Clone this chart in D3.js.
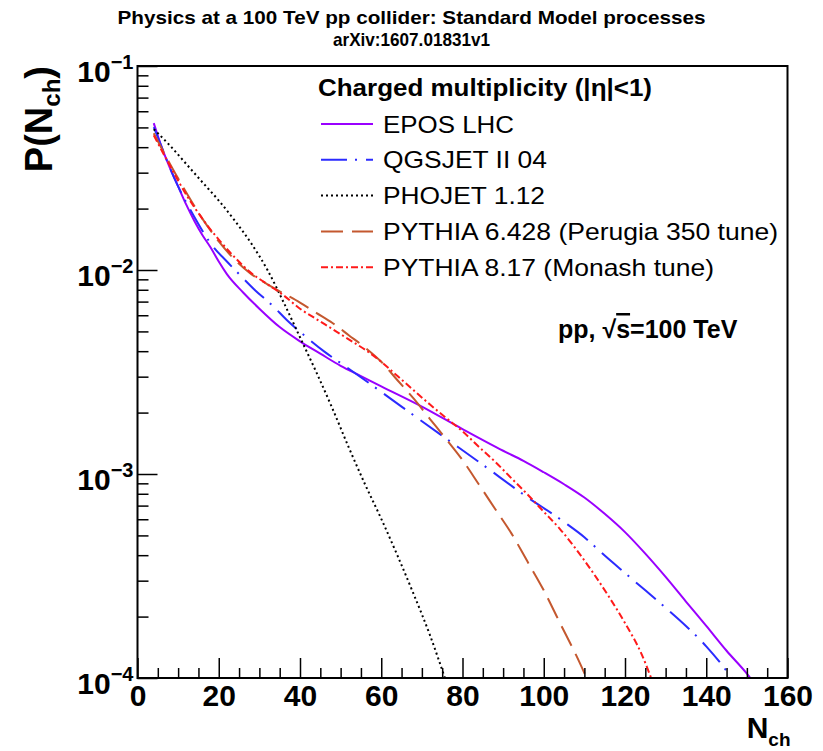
<!DOCTYPE html>
<html>
<head>
<meta charset="utf-8">
<script src="https://cdn.jsdelivr.net/npm/d3@7"></script>
<style>
  body { margin: 0; background: #fff; }
  text { font-family: "Liberation Sans", Arial, Helvetica, sans-serif; fill: #000; }
</style>
</head>
<body>
<svg id="chart"></svg>
<script>
// ---- data ----
const titleLines = [
  "Physics at a 100 TeV pp collider: Standard Model processes",
  "arXiv:1607.01831v1"
];
const xTicks = [0, 20, 40, 60, 80, 100, 120, 140, 160];
const yTicks = [1e-1, 1e-2, 1e-3, 1e-4];
const legendTitle = "Charged multiplicity (|η|<1)";
const seriesNames = [
  "EPOS LHC",
  "QGSJET II 04",
  "PHOJET 1.12",
  "PYTHIA 6.428 (Perugia 350 tune)",
  "PYTHIA 8.17 (Monash tune)"
];

// [N_ch, P(N_ch)]
const epos = [
  [4, 5.25e-2], [6, 3.98e-2], [8, 3.16e-2], [10, 2.57e-2], [12, 2.09e-2],
  [14, 1.74e-2], [16, 1.48e-2], [18, 1.29e-2], [20, 1.10e-2], [22, 9.55e-3],
  [26, 7.76e-3], [30, 6.46e-3], [35, 5.25e-3], [40, 4.47e-3], [45, 3.89e-3],
  [50, 3.39e-3], [55, 3.02e-3], [60, 2.69e-3], [70, 2.14e-3], [80, 1.66e-3],
  [90, 1.30e-3], [95, 1.16e-3], [100, 1.02e-3], [105, 8.91e-4], [110, 7.67e-4],
  [115, 6.38e-4], [120, 5.19e-4], [125, 4.07e-4], [130, 3.13e-4], [135, 2.37e-4],
  [140, 1.80e-4], [145, 1.36e-4], [150, 1.05e-4], [152, 9.33e-5]
];
const qgsjet = [
  [4, 5.01e-2], [6, 3.98e-2], [8, 3.16e-2], [10, 2.57e-2], [14, 1.82e-2],
  [18, 1.35e-2], [22, 1.10e-2], [25, 9.55e-3], [29, 7.94e-3], [33, 6.76e-3],
  [37, 5.62e-3], [41, 4.79e-3], [46, 3.98e-3], [51, 3.39e-3], [57, 2.79e-3],
  [65, 2.14e-3], [75, 1.54e-3], [85, 1.11e-3], [95, 7.94e-4], [105, 5.82e-4],
  [110, 4.90e-4], [115, 3.98e-4], [120, 3.27e-4], [125, 2.69e-4], [130, 2.21e-4],
  [135, 1.80e-4], [140, 1.43e-4], [144, 1.15e-4], [147, 9.55e-5]
];
const phojet = [
  [4, 4.90e-2], [8, 4.07e-2], [12, 3.31e-2], [16, 2.69e-2], [20, 2.19e-2],
  [24, 1.74e-2], [28, 1.35e-2], [32, 1.00e-2], [36, 6.92e-3], [40, 4.68e-3],
  [44, 3.16e-3], [48, 2.09e-3], [52, 1.35e-3], [56, 8.91e-4], [60, 6.03e-4],
  [64, 3.98e-4], [68, 2.57e-4], [72, 1.62e-4], [76, 9.55e-5]
];
const pythia6 = [
  [4, 4.68e-2], [8, 3.31e-2], [12, 2.40e-2], [16, 1.78e-2], [20, 1.38e-2],
  [24, 1.12e-2], [28, 9.55e-3], [32, 8.51e-3], [36, 7.67e-3], [40, 6.92e-3],
  [44, 6.17e-3], [48, 5.50e-3], [52, 4.79e-3], [56, 4.17e-3], [60, 3.55e-3],
  [64, 2.88e-3], [68, 2.34e-3], [72, 1.86e-3], [76, 1.48e-3], [80, 1.17e-3],
  [84, 8.91e-4], [88, 6.76e-4], [92, 5.13e-4], [96, 3.72e-4], [100, 2.69e-4],
  [104, 1.86e-4], [108, 1.29e-4], [111, 9.55e-5]
];
const pythia8 = [
  [4, 4.57e-2], [8, 3.24e-2], [12, 2.34e-2], [16, 1.78e-2], [20, 1.41e-2],
  [24, 1.15e-2], [28, 9.66e-3], [32, 8.51e-3], [36, 7.50e-3], [40, 6.46e-3],
  [44, 5.75e-3], [48, 5.13e-3], [52, 4.57e-3], [56, 4.07e-3], [60, 3.55e-3],
  [64, 3.02e-3], [68, 2.57e-3], [72, 2.19e-3], [76, 1.88e-3], [80, 1.62e-3],
  [84, 1.36e-3], [88, 1.15e-3], [92, 9.55e-4], [96, 7.94e-4], [100, 6.53e-4],
  [104, 5.37e-4], [108, 4.27e-4], [112, 3.31e-4], [116, 2.51e-4], [120, 1.86e-4],
  [124, 1.32e-4], [127, 9.33e-5]
];

// ---- layout ----
const width = 823, height = 751;
const margin = { top: 66, right: 35.5, bottom: 73, left: 137.5 };
const plotW = width - margin.left - margin.right;
const plotH = height - margin.top - margin.bottom;

const series = [
  { name: seriesNames[0], data: epos,    color: "#9a00ff", dash: null },
  { name: seriesNames[1], data: qgsjet,  color: "#2b2bff", dash: "26,8,2,9" },
  { name: seriesNames[2], data: phojet,  color: "#000000", dash: "2,3" },
  { name: seriesNames[3], data: pythia6, color: "#c4582f", dash: "22,9" },
  { name: seriesNames[4], data: pythia8, color: "#ff1a1a", dash: "7,3,2,3" }
];

const svg = d3.select("#chart").attr("width", width).attr("height", height);

// title
const titleWidths = [588, 157];
svg.selectAll("text.title")
  .data(titleLines)
  .enter()
  .append("text")
  .attr("class", "title")
  .attr("x", 411.5)
  .attr("y", (d, i) => 24 + i * 22)
  .attr("text-anchor", "middle")
  .attr("textLength", (d, i) => titleWidths[i])
  .attr("lengthAdjust", "spacingAndGlyphs")
  .style("font-size", "19px")
  .style("font-weight", "bold")
  .text((d) => d);

const g = svg.append("g").attr("transform", `translate(${margin.left},${margin.top})`);

const x = d3.scaleLinear().domain([0, 160]).range([0, plotW]);
const y = d3.scaleLog().domain([1e-4, 1e-1]).range([plotH, 0]);

g.append("clipPath").attr("id", "clip")
  .append("rect").attr("width", plotW).attr("height", plotH);

// curves
const line = d3.line()
  .x((d) => x(d[0]))
  .y((d) => y(d[1]))
  .curve(d3.curveMonotoneX);

g.append("g")
  .attr("clip-path", "url(#clip)")
  .selectAll("path")
  .data(series)
  .enter()
  .append("path")
  .attr("d", (d) => line(d.data))
  .attr("fill", "none")
  .attr("stroke", (d) => d.color)
  .attr("stroke-width", 2)
  .attr("stroke-dasharray", (d) => d.dash);

// x axis: major ticks every 20, minor every 5, ticks point inward
const xMinor = d3.range(0, 161, 5).filter((v) => v % 20 !== 0);
g.append("g")
  .attr("transform", `translate(0,${plotH})`)
  .call(d3.axisBottom(x).tickValues(xMinor).tickSize(-10).tickFormat(""))
  .call((a) => a.select(".domain").remove());

const xAxis = g.append("g")
  .attr("transform", `translate(0,${plotH})`)
  .call(d3.axisBottom(x).tickValues(xTicks).tickSize(-20).tickPadding(7));
xAxis.select(".domain").remove();
xAxis.selectAll("text")
  .style("font-size", "30px")
  .style("font-weight", "bold")
  .style("font-family", "'Liberation Sans', Arial, sans-serif");

// y axis: decades + log minor ticks
const yMinor = [];
yTicks.slice(1).forEach((t) => d3.range(2, 10).forEach((m) => yMinor.push(t * m)));
g.append("g")
  .call(d3.axisLeft(y).tickValues(yMinor).tickSize(-11).tickFormat(""))
  .call((a) => a.select(".domain").remove());

const yAxis = g.append("g")
  .call(d3.axisLeft(y).tickValues(yTicks).tickSize(-20).tickFormat(""));
yAxis.select(".domain").remove();
yAxis.selectAll(".tick")
  .append("text")
  .attr("x", -4)
  .attr("y", 5)
  .attr("dy", "0.35em")
  .attr("text-anchor", "end")
  .style("font-size", "30px")
  .style("font-weight", "bold")
  .each(function (d) {
    const t = d3.select(this);
    t.append("tspan").text("10");
    t.append("tspan")
      .attr("dy", -13)
      .style("font-size", "20px")
      .text("\u2212" + Math.round(-Math.log10(d)));
  });

g.selectAll(".tick line").attr("stroke", "#000").attr("stroke-width", 1.5);

// frame
g.append("rect")
  .attr("width", plotW)
  .attr("height", plotH)
  .attr("fill", "none")
  .attr("stroke", "#000")
  .attr("stroke-width", 2);

// axis titles
const xTitle = svg.append("text")
  .attr("x", margin.left + plotW + 3)
  .attr("y", 738)
  .attr("text-anchor", "end")
  .style("font-size", "30px")
  .style("font-weight", "bold");
xTitle.append("tspan").text("N");
xTitle.append("tspan").attr("dy", 8).style("font-size", "19px").text("ch");

const yTitle = svg.append("text")
  .attr("transform", `translate(52,${margin.top}) rotate(-90)`)
  .attr("text-anchor", "end")
  .style("font-size", "38px")
  .style("font-weight", "bold");
yTitle.append("tspan").text("P(N");
yTitle.append("tspan").attr("dy", 8).style("font-size", "24px").text("ch");
yTitle.append("tspan").attr("dy", -8).text(")");

// legend
const legend = svg.append("g");
legend.append("text")
  .attr("x", 318)
  .attr("y", 96)
  .attr("textLength", 334)
  .attr("lengthAdjust", "spacingAndGlyphs")
  .style("font-size", "23px")
  .style("font-weight", "bold")
  .text(legendTitle);

const legendWidths = [131, 164, 162, 395, 331];
const rows = legend.selectAll("g.entry")
  .data(series)
  .enter()
  .append("g")
  .attr("class", "entry")
  .attr("transform", (d, i) => `translate(0,${124 + i * 35.8})`);

rows.append("line")
  .attr("x1", 321)
  .attr("x2", 373)
  .attr("stroke", (d) => d.color)
  .attr("stroke-width", 2)
  .attr("stroke-dasharray", (d) => d.dash);

rows.append("text")
  .attr("x", 383)
  .attr("dy", "0.36em")
  .attr("textLength", (d, i) => legendWidths[i])
  .attr("lengthAdjust", "spacingAndGlyphs")
  .style("font-size", "24px")
  .text((d) => d.name);

// energy label
const energy = svg.append("text")
  .attr("x", 558)
  .attr("y", 338)
  .style("font-size", "25px")
  .style("font-weight", "bold");
energy.append("tspan").text("pp,  \u221A");
energy.append("tspan").style("text-decoration", "overline").text("s");
energy.append("tspan").text("=100 TeV");
</script>
</body>
</html>
